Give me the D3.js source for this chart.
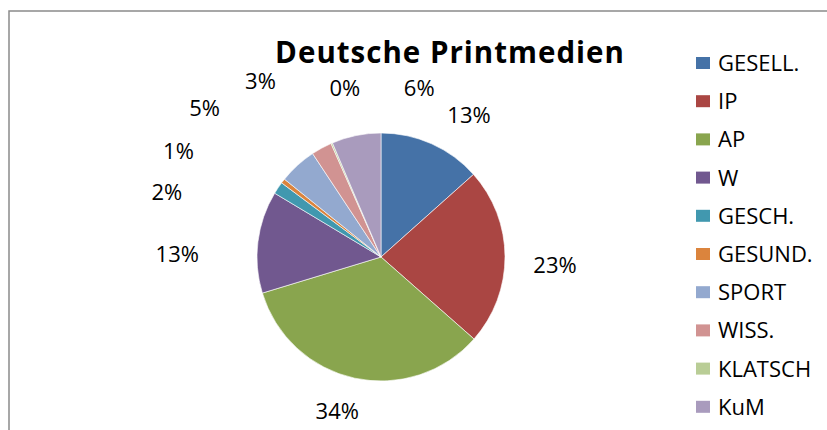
<!DOCTYPE html>
<head>
<meta charset="utf-8">
<style>
  body { margin:0; background:#fff; }
  svg { display:block; }
  text { font-family: "Open Sans", sans-serif; fill:#000; }
</style>
<script src="https://d3js.org/d3.v7.min.js"></script>
</head>
<body>
<script>

var width = 827;
var height = 430;

// Anteile (in %)
var categories = ["GESELL.", "IP", "AP", "W", "GESCH.", "GESUND.", "SPORT", "WISS.", "KLATSCH", "KuM"];
var values = [13.4, 23.1, 33.8, 13.3, 1.6, 0.6, 4.9, 2.7, 0.2, 6.4];
var colors = ["#4572A7", "#AA4643", "#89A54E", "#71588F", "#4198AF",
              "#DB843D", "#93A9CF", "#D19392", "#B9CD96", "#A99BBD"];

// Excel hat die Beschriftungen verschoben, damit sie sich nicht überlappen
var labelNudge = [[21, 8], [10, 8], [-9, -6], [-41, 17], [-78, 26],
                  [-73, -5], [-66, -28], [-42, -32], [29, -19], [71, -8]];

var cx = 381, cy = 257, radius = 124;

var svg = d3.select("body").append("svg")
    .attr("width", width)
    .attr("height", height);

// Rahmen
svg.append("rect")
    .attr("x", 9).attr("y", 11)
    .attr("width", width + 20).attr("height", height + 20)
    .attr("fill", "none")
    .attr("stroke", "#8a8a8a")
    .attr("stroke-width", 1.5);

svg.append("text")
    .attr("x", 450).attr("y", 63)
    .attr("text-anchor", "middle")
    .style("font-size", "29.5px")
    .style("font-weight", "bold")
    .style("letter-spacing", "1px")
    .text("Deutsche Printmedien");

var data = categories.map(function(c, i) { return {name: c, value: values[i], i: i}; });
var total = d3.sum(values);

var pie = d3.pie().sort(null).value(function(d) { return d.value; });
var arc = d3.arc().innerRadius(0).outerRadius(radius);

var g = svg.append("g").attr("transform", "translate(" + cx + "," + cy + ")");

var arcs = pie(data);

g.selectAll("path")
  .data(arcs)
  .enter().append("path")
    .attr("d", arc)
    .attr("fill", function(d) { return colors[d.data.i]; })
    .attr("stroke", "#fff")
    .attr("stroke-width", 0.6);

g.selectAll("text.lbl")
  .data(arcs)
  .enter().append("text")
    .attr("class", "lbl")
    .attr("text-anchor", "middle")
    .attr("x", function(d) {
        var a = (d.startAngle + d.endAngle) / 2;
        return (radius + 40) * Math.sin(a) + labelNudge[d.data.i][0];
    })
    .attr("y", function(d) {
        var a = (d.startAngle + d.endAngle) / 2;
        return -(radius + 40) * Math.cos(a) + labelNudge[d.data.i][1] + 8;
    })
    .style("font-size", "22px")
    .text(function(d) { return Math.round(d.data.value / total * 100) + "%"; });

// Legende
var legend = svg.append("g").attr("transform", "translate(696,63)");
var item = legend.selectAll("g")
  .data(data)
  .enter().append("g")
    .attr("transform", function(d, i) { return "translate(0," + (i * 38.2) + ")"; });

item.append("rect")
    .attr("x", 0).attr("y", -6)
    .attr("width", 14).attr("height", 12)
    .attr("fill", function(d) { return colors[d.i]; });

item.append("text")
    .attr("x", 22).attr("y", 8)
    .style("font-size", "22px")
    .text(function(d) { return d.name; });

</script>
</body>
